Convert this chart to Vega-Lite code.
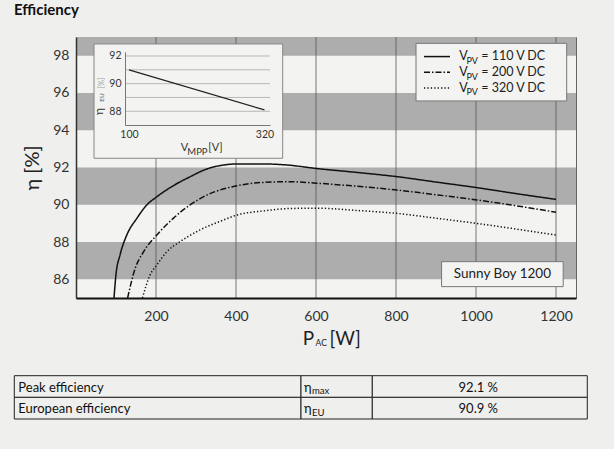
{
  "$schema": "https://vega.github.io/schema/vega-lite/v6.json",
  "autosize": {"type": "none"},
  "width": 500,
  "height": 261,
  "padding": {"left": 76, "top": 37, "right": 38, "bottom": 151},
  "background": "#efefed",
  "title": {"text": "Efficiency", "anchor": "start", "frame": "group", "dx": -62, "offset": 19, "fontSize": 15, "fontWeight": "bold", "color": "#111", "font": "Lato"},
  "config": {"font": "Lato", "view": {"fill": "#f3f3f1", "stroke": "#666", "strokeWidth": 1}},
  "data": {"values": [{}]},
  "datasets": {
    "bands": [{"lo": 98, "hi": 99}, {"lo": 94, "hi": 96}, {"lo": 90, "hi": 92}, {"lo": 86, "hi": 88}],
    "gridlines": [{"g": 200}, {"g": 400}, {"g": 600}, {"g": 800}, {"g": 1000}, {"g": 1200}],
    "curves": [
      {"series": "110 V", "p": 95, "eta": 85.0},
      {"series": "110 V", "p": 100, "eta": 86.27},
      {"series": "110 V", "p": 110, "eta": 87.3},
      {"series": "110 V", "p": 127, "eta": 88.38},
      {"series": "110 V", "p": 152, "eta": 89.27},
      {"series": "110 V", "p": 177, "eta": 89.99},
      {"series": "110 V", "p": 202, "eta": 90.43},
      {"series": "110 V", "p": 243, "eta": 91.02},
      {"series": "110 V", "p": 285, "eta": 91.5},
      {"series": "110 V", "p": 327, "eta": 91.92},
      {"series": "110 V", "p": 368, "eta": 92.13},
      {"series": "110 V", "p": 402, "eta": 92.19},
      {"series": "110 V", "p": 468, "eta": 92.19},
      {"series": "110 V", "p": 535, "eta": 92.12},
      {"series": "110 V", "p": 600, "eta": 91.95},
      {"series": "110 V", "p": 700, "eta": 91.74},
      {"series": "110 V", "p": 802, "eta": 91.51},
      {"series": "110 V", "p": 900, "eta": 91.22},
      {"series": "110 V", "p": 1002, "eta": 90.92},
      {"series": "110 V", "p": 1100, "eta": 90.6},
      {"series": "110 V", "p": 1200, "eta": 90.29},
      {"series": "200 V", "p": 129, "eta": 85.0},
      {"series": "200 V", "p": 147.5, "eta": 86.56},
      {"series": "200 V", "p": 168, "eta": 87.45},
      {"series": "200 V", "p": 202, "eta": 88.38},
      {"series": "200 V", "p": 243, "eta": 89.27},
      {"series": "200 V", "p": 285, "eta": 89.99},
      {"series": "200 V", "p": 327, "eta": 90.52},
      {"series": "200 V", "p": 402, "eta": 91.02},
      {"series": "200 V", "p": 468, "eta": 91.2},
      {"series": "200 V", "p": 535, "eta": 91.24},
      {"series": "200 V", "p": 600, "eta": 91.16},
      {"series": "200 V", "p": 700, "eta": 91.0},
      {"series": "200 V", "p": 802, "eta": 90.79},
      {"series": "200 V", "p": 900, "eta": 90.54},
      {"series": "200 V", "p": 1002, "eta": 90.26},
      {"series": "200 V", "p": 1100, "eta": 89.95},
      {"series": "200 V", "p": 1200, "eta": 89.6},
      {"series": "320 V", "p": 166, "eta": 85.0},
      {"series": "320 V", "p": 185, "eta": 86.23},
      {"series": "320 V", "p": 202, "eta": 86.77},
      {"series": "320 V", "p": 227, "eta": 87.48},
      {"series": "320 V", "p": 260, "eta": 88.02},
      {"series": "320 V", "p": 310, "eta": 88.65},
      {"series": "320 V", "p": 368, "eta": 89.18},
      {"series": "320 V", "p": 402, "eta": 89.45},
      {"series": "320 V", "p": 468, "eta": 89.67},
      {"series": "320 V", "p": 535, "eta": 89.8},
      {"series": "320 V", "p": 600, "eta": 89.82},
      {"series": "320 V", "p": 700, "eta": 89.7},
      {"series": "320 V", "p": 802, "eta": 89.54},
      {"series": "320 V", "p": 900, "eta": 89.28},
      {"series": "320 V", "p": 1002, "eta": 89.0},
      {"series": "320 V", "p": 1100, "eta": 88.7},
      {"series": "320 V", "p": 1200, "eta": 88.38}
    ],
    "inset": [{"v": 100, "e": 91.0}, {"v": 320, "e": 88.1}],
    "insetGrid": [{"g": 88}, {"g": 89}, {"g": 90}, {"g": 91}, {"g": 92}],
    "tablerows": [
      {"label": "Peak efficiency", "sub": "max", "value": "92.1 %"},
      {"label": "European efficiency", "sub": "EU", "value": "90.9 %"}
    ]
  },
  "layer": [
    {"data": {"name": "bands"}, "mark": {"type": "rect", "fill": "#adadad"},
     "encoding": {"y": {"field": "lo", "type": "quantitative", "scale": {"domain": [85, 99], "nice": false, "zero": false}, "axis": null}, "y2": {"field": "hi"}}},
    {"data": {"name": "gridlines"}, "mark": {"type": "rule", "color": "#555", "strokeWidth": 0.8},
     "encoding": {"x": {"field": "g", "type": "quantitative", "scale": {"domain": [0, 1250], "nice": false, "zero": false}, "axis": null}}},
    {"data": {"name": "curves"}, "mark": {"type": "line", "interpolate": "monotone", "color": "#111", "strokeWidth": 1.5},
     "encoding": {
       "x": {"field": "p", "type": "quantitative", "scale": {"domain": [0, 1250], "nice": false, "zero": false},
             "axis": {"orient": "bottom", "values": [200, 400, 600, 800, 1000, 1200], "format": "d", "title": null, "labelFontSize": 14, "labelColor": "#333", "labelPadding": 11, "ticks": false, "domainColor": "#111", "domainWidth": 2, "grid": false, "zindex": 1}},
       "y": {"field": "eta", "type": "quantitative", "scale": {"domain": [85, 99], "nice": false, "zero": false},
             "axis": {"orient": "left", "values": [86, 88, 90, 92, 94, 96, 98], "title": "η [%]", "titleFontSize": 20, "titleFontWeight": "normal", "titleColor": "#222", "titlePadding": 10, "labelFontSize": 14, "labelColor": "#333", "labelPadding": 7, "ticks": false, "domainColor": "#333", "domainWidth": 1.5, "grid": false, "zindex": 1}},
       "strokeDash": {"field": "series", "type": "nominal", "scale": {"domain": ["110 V", "200 V", "320 V"], "range": [[1, 0], [6, 2, 1.5, 2], [1.3, 2.1]]}, "legend": null}
     }},
    {"mark": {"type": "rect", "fill": "#f3f3f1", "stroke": "#777", "strokeWidth": 1},
     "encoding": {"x": {"datum": 850, "scale": {"domain": [0, 1250], "nice": false, "zero": false}, "axis": null}, "x2": {"datum": 1226.75}, "y": {"datum": 98.66, "scale": {"domain": [85, 99], "nice": false, "zero": false}, "axis": null}, "y2": {"datum": 95.57}}},
    {"mark": {"type": "rule", "color": "#111", "strokeWidth": 1.5},
     "encoding": {"x": {"datum": 870, "scale": {"domain": [0, 1250], "nice": false, "zero": false}, "axis": null}, "x2": {"datum": 935}, "y": {"datum": 97.95, "scale": {"domain": [85, 99], "nice": false, "zero": false}, "axis": null}}},
    {"mark": {"type": "rule", "color": "#111", "strokeWidth": 1.5, "strokeDash": [6, 2, 1.5, 2]},
     "encoding": {"x": {"datum": 870, "scale": {"domain": [0, 1250], "nice": false, "zero": false}, "axis": null}, "x2": {"datum": 935}, "y": {"datum": 97.11, "scale": {"domain": [85, 99], "nice": false, "zero": false}, "axis": null}}},
    {"mark": {"type": "rule", "color": "#111", "strokeWidth": 1.5, "strokeDash": [1.3, 2.1]},
     "encoding": {"x": {"datum": 870, "scale": {"domain": [0, 1250], "nice": false, "zero": false}, "axis": null}, "x2": {"datum": 935}, "y": {"datum": 96.26, "scale": {"domain": [85, 99], "nice": false, "zero": false}, "axis": null}}},
    {"mark": {"type": "text", "text": "V", "align": "left", "baseline": "alphabetic", "fontSize": 12.5, "color": "#222"},
     "encoding": {"x": {"datum": 958.25, "scale": {"domain": [0, 1250], "nice": false, "zero": false}, "axis": null}, "y": {"datum": 97.75, "scale": {"domain": [85, 99], "nice": false, "zero": false}, "axis": null}}},
    {"mark": {"type": "text", "text": "PV", "align": "left", "baseline": "alphabetic", "fontSize": 9, "color": "#222"},
     "encoding": {"x": {"datum": 976, "scale": {"domain": [0, 1250], "nice": false, "zero": false}, "axis": null}, "y": {"datum": 97.55, "scale": {"domain": [85, 99], "nice": false, "zero": false}, "axis": null}}},
    {"mark": {"type": "text", "text": "= 110 V DC", "align": "left", "baseline": "alphabetic", "fontSize": 12.5, "color": "#222"},
     "encoding": {"x": {"datum": 1013, "scale": {"domain": [0, 1250], "nice": false, "zero": false}, "axis": null}, "y": {"datum": 97.75, "scale": {"domain": [85, 99], "nice": false, "zero": false}, "axis": null}}},
    {"mark": {"type": "text", "text": "V", "align": "left", "baseline": "alphabetic", "fontSize": 12.5, "color": "#222"},
     "encoding": {"x": {"datum": 958.25, "scale": {"domain": [0, 1250], "nice": false, "zero": false}, "axis": null}, "y": {"datum": 96.91, "scale": {"domain": [85, 99], "nice": false, "zero": false}, "axis": null}}},
    {"mark": {"type": "text", "text": "PV", "align": "left", "baseline": "alphabetic", "fontSize": 9, "color": "#222"},
     "encoding": {"x": {"datum": 976, "scale": {"domain": [0, 1250], "nice": false, "zero": false}, "axis": null}, "y": {"datum": 96.71, "scale": {"domain": [85, 99], "nice": false, "zero": false}, "axis": null}}},
    {"mark": {"type": "text", "text": "= 200 V DC", "align": "left", "baseline": "alphabetic", "fontSize": 12.5, "color": "#222"},
     "encoding": {"x": {"datum": 1013, "scale": {"domain": [0, 1250], "nice": false, "zero": false}, "axis": null}, "y": {"datum": 96.91, "scale": {"domain": [85, 99], "nice": false, "zero": false}, "axis": null}}},
    {"mark": {"type": "text", "text": "V", "align": "left", "baseline": "alphabetic", "fontSize": 12.5, "color": "#222"},
     "encoding": {"x": {"datum": 958.25, "scale": {"domain": [0, 1250], "nice": false, "zero": false}, "axis": null}, "y": {"datum": 96.07, "scale": {"domain": [85, 99], "nice": false, "zero": false}, "axis": null}}},
    {"mark": {"type": "text", "text": "PV", "align": "left", "baseline": "alphabetic", "fontSize": 9, "color": "#222"},
     "encoding": {"x": {"datum": 976, "scale": {"domain": [0, 1250], "nice": false, "zero": false}, "axis": null}, "y": {"datum": 95.87, "scale": {"domain": [85, 99], "nice": false, "zero": false}, "axis": null}}},
    {"mark": {"type": "text", "text": "= 320 V DC", "align": "left", "baseline": "alphabetic", "fontSize": 12.5, "color": "#222"},
     "encoding": {"x": {"datum": 1013, "scale": {"domain": [0, 1250], "nice": false, "zero": false}, "axis": null}, "y": {"datum": 96.07, "scale": {"domain": [85, 99], "nice": false, "zero": false}, "axis": null}}},
    {"mark": {"type": "rect", "fill": "#f3f3f1", "stroke": "#777", "strokeWidth": 1},
     "encoding": {"x": {"datum": 914, "scale": {"domain": [0, 1250], "nice": false, "zero": false}, "axis": null}, "x2": {"datum": 1218}, "y": {"datum": 86.95, "scale": {"domain": [85, 99], "nice": false, "zero": false}, "axis": null}, "y2": {"datum": 85.61}}},
    {"mark": {"type": "text", "text": "Sunny Boy 1200", "align": "center", "baseline": "middle", "fontSize": 13.5, "color": "#222"},
     "encoding": {"x": {"datum": 1066, "scale": {"domain": [0, 1250], "nice": false, "zero": false}, "axis": null}, "y": {"datum": 86.28, "scale": {"domain": [85, 99], "nice": false, "zero": false}, "axis": null}}},
    {"mark": {"type": "text", "text": "P", "align": "left", "baseline": "alphabetic", "fontSize": 19, "color": "#222"},
     "encoding": {"x": {"datum": 566.7, "scale": {"domain": [0, 1250], "nice": false, "zero": false}, "axis": null}, "y": {"datum": 82.48, "scale": {"domain": [85, 99], "nice": false, "zero": false}, "axis": null}}},
    {"mark": {"type": "text", "text": "AC", "align": "left", "baseline": "alphabetic", "fontSize": 8.5, "color": "#222"},
     "encoding": {"x": {"datum": 599, "scale": {"domain": [0, 1250], "nice": false, "zero": false}, "axis": null}, "y": {"datum": 82.4, "scale": {"domain": [85, 99], "nice": false, "zero": false}, "axis": null}}},
    {"mark": {"type": "text", "text": "[W]", "align": "left", "baseline": "alphabetic", "fontSize": 19, "color": "#222"},
     "encoding": {"x": {"datum": 633.5, "scale": {"domain": [0, 1250], "nice": false, "zero": false}, "axis": null}, "y": {"datum": 82.48, "scale": {"domain": [85, 99], "nice": false, "zero": false}, "axis": null}}},

    {"mark": {"type": "rect", "fill": "#f3f3f1", "stroke": "#888", "strokeWidth": 1},
     "encoding": {"x": {"datum": 43.2, "scale": {"domain": [93.5, 329], "range": [49, 194], "nice": false, "zero": false}, "axis": null}, "x2": {"datum": 349.6}, "y": {"datum": 92.87, "scale": {"domain": [87, 92.3], "range": [88.1, 14.85], "nice": false, "zero": false}, "axis": null}, "y2": {"datum": 84.6}}},
    {"data": {"name": "insetGrid"}, "mark": {"type": "rule", "color": "#b8b8b8", "strokeWidth": 1},
     "encoding": {"x": {"datum": 93.5, "scale": {"domain": [93.5, 329], "range": [49, 194], "nice": false, "zero": false}, "axis": null}, "x2": {"datum": 329}, "y": {"field": "g", "type": "quantitative", "scale": {"domain": [87, 92.3], "range": [88.1, 14.85], "nice": false, "zero": false}, "axis": null}}},
    {"data": {"name": "inset"}, "mark": {"type": "line", "color": "#222", "strokeWidth": 1.2},
     "encoding": {
       "x": {"field": "v", "type": "quantitative", "scale": {"domain": [93.5, 329], "range": [49, 194], "nice": false, "zero": false},
             "axis": {"orient": "bottom", "offset": -173, "values": [100, 320], "title": null, "labelFontSize": 10.5, "labelColor": "#333", "labelPadding": 4, "ticks": false, "domainColor": "#777", "grid": false, "zindex": 1, "labelFlush": false}},
       "y": {"field": "e", "type": "quantitative", "scale": {"domain": [87, 92.3], "range": [88.1, 14.85], "nice": false, "zero": false},
             "axis": {"orient": "left", "offset": -49, "values": [88, 90, 92], "title": null, "labelFontSize": 10.5, "labelColor": "#333", "labelPadding": 4, "ticks": false, "domainColor": "#777", "grid": false, "zindex": 1}}
     }},
    {"mark": {"type": "text", "text": "η", "angle": 270, "align": "left", "baseline": "alphabetic", "fontSize": 12, "color": "#333"},
     "encoding": {"x": {"datum": 57.3, "scale": {"domain": [93.5, 329], "range": [49, 194], "nice": false, "zero": false}, "axis": null}, "y": {"datum": 87.73, "scale": {"domain": [87, 92.3], "range": [88.1, 14.85], "nice": false, "zero": false}, "axis": null}}},
    {"mark": {"type": "text", "text": "EU", "angle": 270, "align": "left", "baseline": "alphabetic", "fontSize": 6.5, "color": "#666"},
     "encoding": {"x": {"datum": 58.6, "scale": {"domain": [93.5, 329], "range": [49, 194], "nice": false, "zero": false}, "axis": null}, "y": {"datum": 88.69, "scale": {"domain": [87, 92.3], "range": [88.1, 14.85], "nice": false, "zero": false}, "axis": null}}},
    {"mark": {"type": "text", "text": "[%]", "angle": 270, "align": "left", "baseline": "alphabetic", "fontSize": 7.5, "color": "#999"},
     "encoding": {"x": {"datum": 59.4, "scale": {"domain": [93.5, 329], "range": [49, 194], "nice": false, "zero": false}, "axis": null}, "y": {"datum": 89.66, "scale": {"domain": [87, 92.3], "range": [88.1, 14.85], "nice": false, "zero": false}, "axis": null}}},
    {"mark": {"type": "text", "text": "V", "align": "left", "baseline": "alphabetic", "fontSize": 11, "color": "#333"},
     "encoding": {"x": {"datum": 183.96, "scale": {"domain": [93.5, 329], "range": [49, 194], "nice": false, "zero": false}, "axis": null}, "y": {"datum": 85.127, "scale": {"domain": [87, 92.3], "range": [88.1, 14.85], "nice": false, "zero": false}, "axis": null}}},
    {"mark": {"type": "text", "text": "MPP", "align": "left", "baseline": "alphabetic", "fontSize": 9.5, "color": "#333"},
     "encoding": {"x": {"datum": 194.7, "scale": {"domain": [93.5, 329], "range": [49, 194], "nice": false, "zero": false}, "axis": null}, "y": {"datum": 84.84, "scale": {"domain": [87, 92.3], "range": [88.1, 14.85], "nice": false, "zero": false}, "axis": null}}},
    {"mark": {"type": "text", "text": "[V]", "align": "left", "baseline": "alphabetic", "fontSize": 11, "color": "#333"},
     "encoding": {"x": {"datum": 228.8, "scale": {"domain": [93.5, 329], "range": [49, 194], "nice": false, "zero": false}, "axis": null}, "y": {"datum": 85.127, "scale": {"domain": [87, 92.3], "range": [88.1, 14.85], "nice": false, "zero": false}, "axis": null}}},

    {"data": {"name": "tablerows"}, "mark": {"type": "rect", "fill": "#efefed", "stroke": "#222", "strokeWidth": 1},
     "encoding": {"x": {"datum": -154.25, "scale": {"domain": [0, 1250], "nice": false, "zero": false}, "axis": null}, "x2": {"datum": 562.5},
                  "y": {"field": "label", "type": "nominal", "scale": {"domain": ["Peak efficiency", "European efficiency"], "range": [338.7, 382], "paddingInner": 0, "paddingOuter": 0}, "axis": null}}},
    {"data": {"name": "tablerows"}, "mark": {"type": "rect", "fill": "#efefed", "stroke": "#222", "strokeWidth": 1},
     "encoding": {"x": {"datum": 562.5, "scale": {"domain": [0, 1250], "nice": false, "zero": false}, "axis": null}, "x2": {"datum": 740.75},
                  "y": {"field": "label", "type": "nominal", "scale": {"domain": ["Peak efficiency", "European efficiency"], "range": [338.7, 382], "paddingInner": 0, "paddingOuter": 0}, "axis": null}}},
    {"data": {"name": "tablerows"}, "mark": {"type": "rect", "fill": "#efefed", "stroke": "#222", "strokeWidth": 1},
     "encoding": {"x": {"datum": 740.75, "scale": {"domain": [0, 1250], "nice": false, "zero": false}, "axis": null}, "x2": {"datum": 1278.25},
                  "y": {"field": "label", "type": "nominal", "scale": {"domain": ["Peak efficiency", "European efficiency"], "range": [338.7, 382], "paddingInner": 0, "paddingOuter": 0}, "axis": null}}},
    {"data": {"name": "tablerows"}, "mark": {"type": "text", "align": "left", "baseline": "middle", "fontSize": 13, "color": "#111", "dy": 1},
     "encoding": {"x": {"datum": -144.25, "scale": {"domain": [0, 1250], "nice": false, "zero": false}, "axis": null},
                  "y": {"field": "label", "type": "nominal", "scale": {"domain": ["Peak efficiency", "European efficiency"], "range": [338.7, 382], "paddingInner": 0, "paddingOuter": 0}, "axis": null},
                  "text": {"field": "label", "type": "nominal"}}},
    {"data": {"name": "tablerows"}, "mark": {"type": "text", "text": "η", "align": "left", "baseline": "middle", "fontSize": 13, "color": "#111", "dy": 1},
     "encoding": {"x": {"datum": 570, "scale": {"domain": [0, 1250], "nice": false, "zero": false}, "axis": null},
                  "y": {"field": "label", "type": "nominal", "scale": {"domain": ["Peak efficiency", "European efficiency"], "range": [338.7, 382], "paddingInner": 0, "paddingOuter": 0}, "axis": null}}},
    {"data": {"name": "tablerows"}, "mark": {"type": "text", "align": "left", "baseline": "middle", "fontSize": 9.5, "color": "#111", "dy": 4.5},
     "encoding": {"x": {"datum": 590, "scale": {"domain": [0, 1250], "nice": false, "zero": false}, "axis": null},
                  "y": {"field": "label", "type": "nominal", "scale": {"domain": ["Peak efficiency", "European efficiency"], "range": [338.7, 382], "paddingInner": 0, "paddingOuter": 0}, "axis": null},
                  "text": {"field": "sub", "type": "nominal"}}},
    {"data": {"name": "tablerows"}, "mark": {"type": "text", "align": "center", "baseline": "middle", "fontSize": 13, "color": "#111", "dy": 1},
     "encoding": {"x": {"datum": 1005.75, "scale": {"domain": [0, 1250], "nice": false, "zero": false}, "axis": null},
                  "y": {"field": "label", "type": "nominal", "scale": {"domain": ["Peak efficiency", "European efficiency"], "range": [338.7, 382], "paddingInner": 0, "paddingOuter": 0}, "axis": null},
                  "text": {"field": "value", "type": "nominal"}}}
  ],
  "resolve": {"scale": {"x": "independent", "y": "independent"}}
}
